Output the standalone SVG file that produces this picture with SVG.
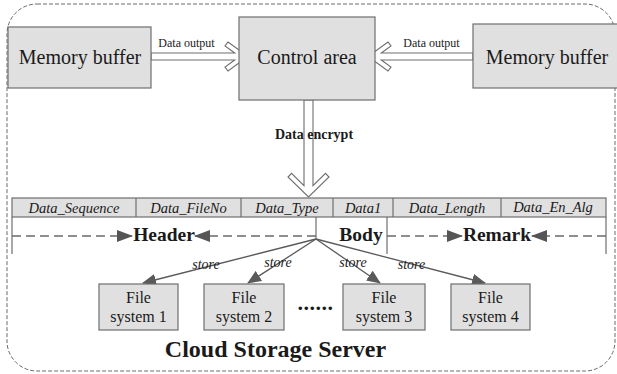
<svg xmlns="http://www.w3.org/2000/svg" width="617" height="374" viewBox="0 0 617 374">
<defs>
<style>
.box{fill:#e0e0e0;stroke:#6e6e6e;stroke-width:1.2}
.t{font-family:"Liberation Serif",serif;fill:#1a1a1a}
.big{font-size:20px}
.sm{font-size:12px}
.it{font-size:14.5px;font-style:italic}
.b{font-weight:bold}
.ln{stroke:#5a5a5a;stroke-width:1.3;fill:none}
.dash{stroke:#6a6a6a;stroke-width:1.3;fill:none;stroke-dasharray:9 5}
.harrow{fill:#fff;stroke:#6e6e6e;stroke-width:1.1}
</style>
<marker id="ah" markerWidth="14" markerHeight="12" refX="13" refY="6" orient="auto" markerUnits="userSpaceOnUse">
<path d="M0,0 L14,6 L0,12 Z" fill="#5a5a5a"/>
</marker>
<marker id="ah2" markerWidth="16" markerHeight="12" refX="15" refY="6" orient="auto" markerUnits="userSpaceOnUse">
<path d="M0,0 L16,6 L0,12 Z" fill="#555"/>
</marker>
</defs>
<rect x="7" y="4" width="608" height="367" rx="30" ry="30" fill="none" stroke="#6a6a6a" stroke-width="1" stroke-dasharray="4 2"/>

<g id="connectors">
<path class="harrow" d="M151,53 L234.7,53 L225,46 L228,42 L248,56.5 L228,71 L225,67 L234.7,60 L151,60 Z"/>
<path class="harrow" d="M473,53 L381.3,53 L391,46 L388,42 L368,56.5 L388,71 L391,67 L381.3,60 L473,60 Z"/>
<path class="harrow" d="M304,100 L304,185.6 L291.5,173.4 L288,177 L308.5,197 L329,177 L325.5,173.4 L313,185.6 L313,100 Z"/>
<text class="t sm" x="186.5" y="47" text-anchor="middle">Data output</text>
<text class="t sm" x="431.5" y="47" text-anchor="middle">Data output</text>
<text class="t b" font-size="14" x="314" y="139" text-anchor="middle">Data encrypt</text>
<line class="ln" x1="316" y1="239" x2="143" y2="283" marker-end="url(#ah)"/>
<line class="ln" x1="316" y1="239" x2="248" y2="283" marker-end="url(#ah)"/>
<line class="ln" x1="316" y1="239" x2="380" y2="283" marker-end="url(#ah)"/>
<line class="ln" x1="316" y1="239" x2="485" y2="283" marker-end="url(#ah)"/>
<text class="t" font-size="14" font-style="italic" x="206" y="269" text-anchor="middle">store</text>
<text class="t" font-size="14" font-style="italic" x="278" y="267" text-anchor="middle">store</text>
<text class="t" font-size="14" font-style="italic" x="353" y="267" text-anchor="middle">store</text>
<text class="t" font-size="14" font-style="italic" x="411.5" y="269" text-anchor="middle">store</text>
</g>

<g id="memory-left">
<rect class="box" x="8" y="27" width="143" height="61"/>
<text class="t big" x="80" y="64" text-anchor="middle">Memory buffer</text>
</g>
<g id="control-area">
<rect class="box" x="239" y="17" width="136" height="83"/>
<text class="t big" x="307" y="64" text-anchor="middle">Control area</text>
</g>
<g id="memory-right">
<rect class="box" x="473" y="24" width="150" height="64"/>
<text class="t big" x="547" y="64" text-anchor="middle">Memory buffer</text>
</g>

<g id="data-table">
<rect class="box" x="12" y="198" width="594" height="19"/>
<g stroke="#6e6e6e" stroke-width="1.2">
<line x1="136" y1="198" x2="136" y2="217"/>
<line x1="241" y1="198" x2="241" y2="217"/>
<line x1="333" y1="198" x2="333" y2="217"/>
<line x1="393" y1="198" x2="393" y2="217"/>
<line x1="501" y1="198" x2="501" y2="217"/>
<line x1="12" y1="217" x2="12" y2="254"/>
<line x1="316" y1="217" x2="316" y2="239"/>
<line x1="387" y1="217" x2="387" y2="254"/>
<line x1="606" y1="217" x2="606" y2="254"/>
</g>
<text class="t it" x="74" y="213" text-anchor="middle">Data_Sequence</text>
<text class="t it" x="188.5" y="213" text-anchor="middle">Data_FileNo</text>
<text class="t it" x="287" y="213" text-anchor="middle">Data_Type</text>
<text class="t it" x="363" y="213" text-anchor="middle">Data1</text>
<text class="t it" x="447" y="213" text-anchor="middle">Data_Length</text>
<text class="t it" x="553" y="212" text-anchor="middle">Data_En_Alg</text>
<line class="dash" x1="12" y1="236" x2="132" y2="236" marker-end="url(#ah2)"/>
<line class="dash" x1="316" y1="236" x2="195" y2="236" marker-end="url(#ah2)"/>
<line class="dash" x1="387" y1="236" x2="462" y2="236" marker-end="url(#ah2)"/>
<line class="dash" x1="606" y1="236" x2="532" y2="236" marker-end="url(#ah2)"/>
<text class="t b" font-size="19.5" x="164" y="241" text-anchor="middle">Header</text>
<text class="t b" font-size="19.5" x="361" y="241" text-anchor="middle">Body</text>
<text class="t b" font-size="19.5" x="497" y="241" text-anchor="middle">Remark</text>
</g>

<g id="fs1">
<rect class="box" x="99" y="284" width="79" height="46"/>
<text class="t" font-size="16" x="138.5" y="303" text-anchor="middle">File</text>
<text class="t" font-size="16" x="138.5" y="322" text-anchor="middle">system 1</text>
</g>
<g id="fs2">
<rect class="box" x="204" y="284" width="80" height="46"/>
<text class="t" font-size="16" x="244" y="303" text-anchor="middle">File</text>
<text class="t" font-size="16" x="244" y="322" text-anchor="middle">system 2</text>
</g>
<g id="fs3">
<rect class="box" x="343" y="284" width="82" height="46"/>
<text class="t" font-size="16" x="384" y="303" text-anchor="middle">File</text>
<text class="t" font-size="16" x="384" y="322" text-anchor="middle">system 3</text>
</g>
<g id="fs4">
<rect class="box" x="451" y="284" width="79" height="46"/>
<text class="t" font-size="16" x="490.5" y="303" text-anchor="middle">File</text>
<text class="t" font-size="16" x="490.5" y="322" text-anchor="middle">system 4</text>
</g>
<text class="t b" font-size="22" x="315.5" y="310" text-anchor="middle" letter-spacing="0.5">......</text>
<text class="t b" font-size="24" x="275.5" y="357" text-anchor="middle">Cloud Storage Server</text>
</svg>
